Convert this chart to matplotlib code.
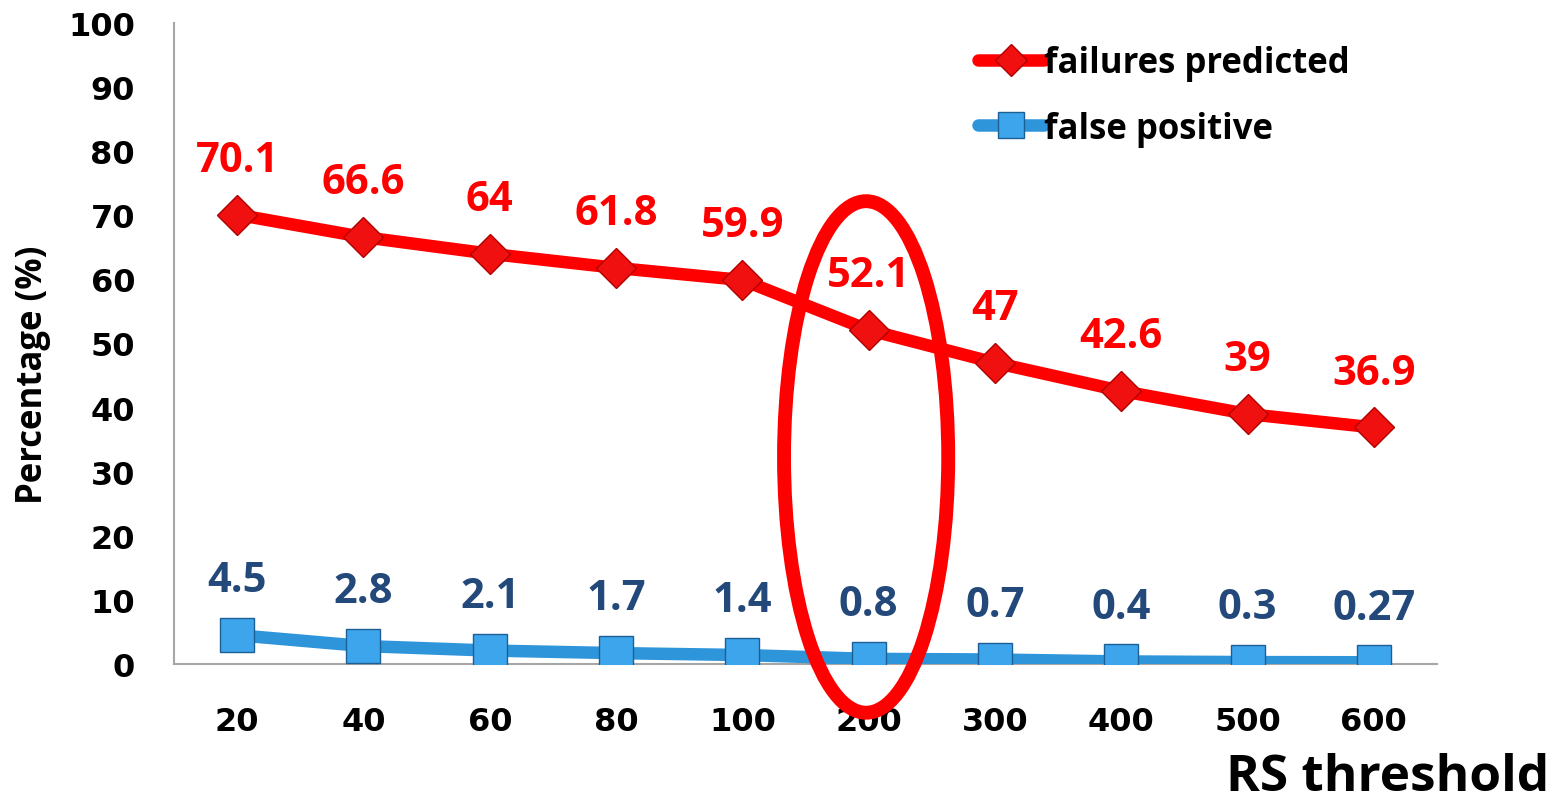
import matplotlib
matplotlib.use("Agg")
import matplotlib.pyplot as plt
from matplotlib.patches import Ellipse
import numpy as np

# - Data -----------------------------------------------------------------------
thresholds = ["20", "40", "60", "80", "100", "200", "300", "400", "500", "600"]
failures_predicted = [70.1, 66.6, 64, 61.8, 59.9, 52.1, 47, 42.6, 39, 36.9]
false_positive = [4.5, 2.8, 2.1, 1.7, 1.4, 0.8, 0.7, 0.4, 0.3, 0.27]
label_fmt_red = ["70.1", "66.6", "64", "61.8", "59.9", "52.1", "47", "42.6", "39", "36.9"]
label_fmt_blue = ["4.5", "2.8", "2.1", "1.7", "1.4", "0.8", "0.7", "0.4", "0.3", "0.27"]
y_ticks = [0, 10, 20, 30, 40, 50, 60, 70, 80, 90, 100]
highlight = "200"
# - EOF Data -------------------------------------------------------------------

RED = "#FF0000"
BLUE = "#2E95DA"
NAVY = "#23487A"
LABEL_FONT = "Open Sans"

fig = plt.figure(figsize=(15.62, 8.03), dpi=100)
ax = fig.add_axes([174 / 1562, 1 - 665 / 803, (1437 - 174) / 1562, (665 - 24) / 803])

x = np.arange(len(thresholds)) + 0.5

ax.plot(x, failures_predicted, color=RED, lw=9, marker="D", markersize=20,
        markerfacecolor="#F01010", markeredgecolor="#B00000", markeredgewidth=1,
        solid_capstyle="round", label="failures predicted", zorder=3)
ax.plot(x, false_positive, color=BLUE, lw=9, marker="s", markersize=24,
        markerfacecolor="#3DA5EC", markeredgecolor="#1D5F95", markeredgewidth=1,
        solid_capstyle="round", label="false positive", zorder=3)

# data labels
for xi, v, t in zip(x, failures_predicted, label_fmt_red):
    ax.annotate(t, (xi, v), xytext=(0, 39), textcoords="offset points",
                ha="center", va="center", color=RED, fontsize=30,
                fontweight="bold", family=LABEL_FONT, annotation_clip=False)
for xi, v, t in zip(x, false_positive, label_fmt_blue):
    ax.annotate(t, (xi, v), xytext=(0, 39), textcoords="offset points",
                ha="center", va="center", color=NAVY, fontsize=30,
                fontweight="bold", family=LABEL_FONT, annotation_clip=False)

# highlight ellipse round the chosen threshold
hx = x[thresholds.index(highlight)]
ax.add_patch(Ellipse((hx - 0.02, 32.3), 1.30, 79.8, fill=False, edgecolor=RED,
                     lw=10, clip_on=False, zorder=5))

ax.set_xlim(0, len(thresholds))
ax.set_ylim(0, 100)
ax.set_xticks(x)
ax.set_xticklabels(thresholds)
ax.set_yticks(y_ticks)
for lab in ax.get_xticklabels() + ax.get_yticklabels():
    lab.set_fontweight("bold")
    lab.set_fontsize(23)
ax.tick_params(axis="both", length=0)
ax.tick_params(axis="y", pad=28)
ax.tick_params(axis="x", pad=30)

for side in ["top", "right"]:
    ax.spines[side].set_visible(False)
for side in ["left", "bottom"]:
    ax.spines[side].set_color("#A6A6A6")
    ax.spines[side].set_linewidth(1.5)

ax.set_ylabel("Percentage (%)", fontsize=25, fontweight="bold",
              family=LABEL_FONT)
ax.yaxis.set_label_coords(-0.097, 0.452)
fig.text(0.992, 0.0, "RS threshold", ha="right", va="bottom",
         fontsize=37, fontweight="bold", family=LABEL_FONT)

leg = ax.legend(loc="upper left", bbox_to_anchor=(978 / 1562, 1 - 46 / 803),
                bbox_transform=fig.transFigure, frameon=False,
                prop={"family": LABEL_FONT, "weight": "bold", "size": 25},
                handlelength=1.9, handletextpad=0.0, labelspacing=0.85,
                markerscale=0.8, borderpad=0, borderaxespad=0)

fig.savefig("out.png", dpi=100)
